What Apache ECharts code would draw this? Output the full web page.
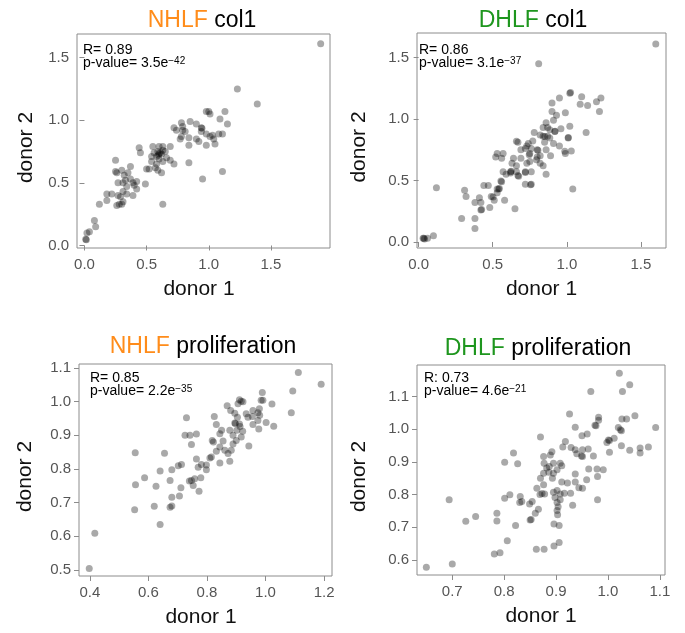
<!DOCTYPE html>
<html>
<head>
<meta charset="utf-8">
<title>donor correlation</title>
<script src="https://cdn.jsdelivr.net/npm/echarts@6/dist/echarts.min.js"></script>
<style>
    html, body { margin: 0; padding: 0; background: #fff; }
    #main { width: 685px; height: 633px; }
</style>
</head>
<body>
<div id="main"></div>
<script>
// [donor 1, donor 2]
var nhlfCol1 = [
    [1.90, 1.61], [1.23, 1.25], [1.39, 1.13], [0.98, 1.07], [1.00, 1.07], [1.01, 1.05], [1.13, 1.07], [1.09, 1.01],
    [1.15, 0.97], [0.85, 0.99], [0.78, 0.98], [0.79, 0.95], [0.90, 0.97], [0.94, 0.94], [0.945, 0.935], [0.72, 0.94],
    [0.74, 0.92], [0.79, 0.92], [0.81, 0.91], [0.94, 0.91], [0.98, 0.89], [1.03, 0.88], [1.08, 0.89], [1.11, 0.89],
    [0.78, 0.87], [0.84, 0.86], [0.90, 0.85], [0.92, 0.83], [1.01, 0.87], [1.04, 0.85], [1.05, 0.81], [0.77, 0.85],
    [0.84, 0.80], [0.98, 0.80], [0.69, 0.79], [0.44, 0.78], [0.45, 0.74], [0.55, 0.79], [0.60, 0.79], [0.63, 0.79],
    [0.56, 0.74], [0.59, 0.75], [0.63, 0.76], [0.65, 0.75], [0.54, 0.71], [0.58, 0.71], [0.62, 0.73], [0.60, 0.69],
    [0.66, 0.70], [0.69, 0.68], [0.72, 0.65], [0.54, 0.67], [0.58, 0.65], [0.63, 0.67], [0.50, 0.61], [0.52, 0.61],
    [0.57, 0.62], [0.59, 0.60], [0.62, 0.58], [0.84, 0.66], [0.25, 0.68], [0.25, 0.59], [0.26, 0.58], [0.30, 0.60],
    [0.37, 0.63], [0.35, 0.58], [0.32, 0.56], [0.27, 0.50], [0.31, 0.50], [0.33, 0.52], [0.37, 0.53], [0.39, 0.50],
    [0.42, 0.51], [0.40, 0.48], [0.42, 0.45], [0.49, 0.49], [0.34, 0.47], [0.31, 0.43], [0.27, 0.40], [0.29, 0.39],
    [0.34, 0.41], [0.39, 0.40], [0.31, 0.35], [0.30, 0.33], [0.28, 0.33], [0.26, 0.32], [0.18, 0.36], [0.18, 0.41],
    [0.22, 0.41], [0.12, 0.33], [0.63, 0.33], [0.95, 0.53], [1.11, 0.59], [0.08, 0.20], [0.09, 0.15], [0.04, 0.11],
    [0.02, 0.10], [0.01, 0.05], [0.015, 0.045], [0.60, 0.735], [0.61, 0.74], [0.595, 0.72]
];
var dhlfCol1 = [
    [1.60, 1.61], [0.81, 1.45], [1.02, 1.21], [1.025, 1.215], [0.90, 1.13], [0.95, 1.17], [1.10, 1.18], [1.09, 1.12],
    [1.14, 1.11], [1.20, 1.14], [1.23, 1.17], [1.22, 1.06], [0.90, 1.06], [0.93, 1.03], [0.99, 1.05], [0.91, 0.99],
    [0.86, 0.97], [1.02, 0.94], [0.96, 0.92], [0.84, 0.93], [0.87, 0.93], [0.78, 0.89], [0.82, 0.87], [1.13, 0.89],
    [1.01, 0.85], [0.77, 0.82], [0.84, 0.86], [0.87, 0.86], [0.92, 0.90], [0.85, 0.81], [0.91, 0.80], [0.67, 0.81],
    [0.74, 0.80], [0.95, 0.78], [0.99, 0.72], [1.03, 0.74], [0.72, 0.76], [0.73, 0.78], [0.76, 0.76], [0.80, 0.75],
    [0.805, 0.745], [0.86, 0.75], [0.69, 0.75], [0.75, 0.72], [0.82, 0.70], [0.89, 0.70], [0.64, 0.68], [0.69, 0.68],
    [0.73, 0.64], [0.80, 0.69], [0.82, 0.64], [0.53, 0.72], [0.52, 0.69], [0.57, 0.72], [0.56, 0.68], [0.63, 0.64],
    [0.66, 0.62], [0.62, 0.57], [0.625, 0.575], [0.66, 0.57], [0.67, 0.54], [0.675, 0.535], [0.57, 0.57], [0.59, 0.55],
    [0.62, 0.56], [0.72, 0.57], [0.72, 0.565], [0.76, 0.57], [0.86, 0.55], [0.72, 0.47], [0.76, 0.47], [0.755, 0.465],
    [1.04, 0.43], [0.56, 0.49], [0.555, 0.495], [0.54, 0.43], [0.545, 0.435], [0.53, 0.43], [0.53, 0.40], [0.49, 0.37],
    [0.51, 0.34], [0.44, 0.46], [0.47, 0.46], [0.41, 0.36], [0.38, 0.32], [0.42, 0.32], [0.42, 0.26], [0.425, 0.265],
    [0.48, 0.28], [0.58, 0.34], [0.65, 0.27], [0.31, 0.42], [0.32, 0.37], [0.29, 0.19], [0.38, 0.19], [0.38, 0.11],
    [0.12, 0.44], [0.03, 0.03], [0.04, 0.025], [0.035, 0.03], [0.06, 0.03], [0.10, 0.05], [0.885, 0.913], [0.919, 0.899],
    [0.851, 0.858], [0.885, 0.845], [1.009, 0.845], [0.986, 0.737], [0.66, 0.818], [0.75, 0.655], [0.795, 0.669],
    [0.84, 0.62], [0.746, 0.709], [0.502, 0.366]
];
var nhlfProlif = [
    [1.112, 1.087], [1.19, 1.052], [1.093, 1.032], [1.088, 0.967], [1.028, 0.927], [1.022, 0.993], [1.002, 0.938],
    [0.989, 1.027], [0.991, 1.004], [0.985, 1.004], [0.979, 0.979], [0.974, 0.967], [0.957, 0.974], [0.934, 0.964],
    [0.94, 0.954], [0.955, 0.956], [0.98, 0.96], [0.974, 0.944], [0.957, 0.932], [0.977, 0.919], [0.943, 0.868],
    [0.911, 1.006], [0.917, 1.001], [0.906, 0.994], [0.923, 1.0], [0.881, 0.974], [0.869, 0.988], [0.895, 0.966],
    [0.904, 0.954], [0.895, 0.937], [0.897, 0.935], [0.911, 0.934], [0.913, 0.926], [0.902, 0.915], [0.922, 0.912],
    [0.917, 0.895], [0.878, 0.915], [0.889, 0.9], [0.9, 0.885], [0.832, 0.932], [0.85, 0.915], [0.844, 0.905],
    [0.825, 0.956], [0.818, 0.885], [0.822, 0.88], [0.855, 0.883], [0.844, 0.865], [0.832, 0.853], [0.861, 0.856],
    [0.872, 0.846], [0.883, 0.856], [0.889, 0.874], [0.878, 0.823], [0.844, 0.818], [0.81, 0.833], [0.815, 0.836],
    [0.798, 0.812], [0.781, 0.813], [0.798, 0.798], [0.764, 0.83], [0.77, 0.805], [0.779, 0.774], [0.758, 0.771],
    [0.747, 0.766], [0.74, 0.764], [0.753, 0.751], [0.773, 0.734], [0.764, 0.904], [0.747, 0.873], [0.742, 0.9],
    [0.725, 0.9], [0.73, 0.952], [0.713, 0.813], [0.702, 0.81], [0.68, 0.798], [0.674, 0.766], [0.711, 0.744],
    [0.68, 0.716], [0.674, 0.686], [0.68, 0.69], [0.706, 0.72], [0.64, 0.794], [0.626, 0.749], [0.62, 0.689],
    [0.64, 0.635], [0.655, 0.847], [0.587, 0.774], [0.555, 0.848], [0.556, 0.753], [0.553, 0.679], [0.417, 0.609],
    [0.398, 0.504]
];
var dhlfProlif = [
    [1.022, 1.171], [1.042, 1.136], [1.028, 1.115], [0.967, 1.115], [0.926, 1.046], [0.982, 1.036], [0.982, 1.027],
    [1.027, 1.031], [1.036, 1.031], [1.052, 1.041], [1.092, 1.005], [0.977, 1.01], [0.975, 1.012], [1.02, 1.005],
    [1.026, 0.995], [1.024, 0.998], [1.012, 0.972], [1.001, 0.967], [1.003, 0.965], [0.998, 0.959], [0.937, 1.006],
    [0.95, 0.98], [0.96, 0.985], [0.87, 0.976], [0.918, 0.962], [0.913, 0.945], [0.929, 0.944], [0.937, 0.937],
    [0.951, 0.937], [0.962, 0.939], [0.951, 0.916], [0.949, 0.918], [0.94, 0.925], [0.972, 0.918], [1.026, 0.949],
    [1.042, 0.935], [1.062, 0.942], [1.078, 0.945], [1.062, 0.927], [1.003, 0.929], [0.991, 0.876], [0.963, 0.878],
    [0.979, 0.878], [0.98, 0.855], [0.98, 0.784], [0.818, 0.927], [0.801, 0.899], [0.826, 0.894], [0.876, 0.916],
    [0.889, 0.921], [0.892, 0.931], [0.877, 0.896], [0.882, 0.881], [0.887, 0.886], [0.895, 0.896], [0.908, 0.896],
    [0.902, 0.876], [0.886, 0.868], [0.895, 0.865], [0.911, 0.888], [0.876, 0.865], [0.87, 0.85], [0.876, 0.83],
    [0.893, 0.85], [0.911, 0.838], [0.922, 0.835], [0.937, 0.863], [0.937, 0.838], [0.944, 0.821], [0.951, 0.819],
    [0.959, 0.845], [0.916, 0.804], [0.928, 0.804], [0.932, 0.767], [0.902, 0.812], [0.908, 0.802], [0.895, 0.807],
    [0.898, 0.791], [0.908, 0.784], [0.902, 0.776], [0.904, 0.763], [0.902, 0.751], [0.903, 0.738], [0.873, 0.803],
    [0.869, 0.8], [0.878, 0.802], [0.863, 0.819], [0.854, 0.779], [0.849, 0.771], [0.834, 0.779], [0.83, 0.776],
    [0.831, 0.794], [0.866, 0.755], [0.86, 0.743], [0.811, 0.799], [0.801, 0.789], [0.786, 0.743], [0.786, 0.719],
    [0.822, 0.705], [0.852, 0.724], [0.85, 0.722], [0.896, 0.71], [0.906, 0.705], [0.806, 0.659], [0.862, 0.633],
    [0.877, 0.633], [0.896, 0.643], [0.906, 0.653], [0.781, 0.618], [0.792, 0.622], [0.726, 0.718], [0.745, 0.733],
    [0.694, 0.784], [0.7, 0.588], [0.65, 0.578]
];

// tick labels
var col1Ticks = [0, 0.5, 1, 1.5];
var nhlfProlifXTicks = [0.4, 0.6, 0.8, 1.0, 1.2];
var nhlfProlifYTicks = [0.5, 0.6, 0.7, 0.8, 0.9, 1.0, 1.1];
var dhlfProlifXTicks = [0.7, 0.8, 0.9, 1.0, 1.1];
var dhlfProlifYTicks = [0.6, 0.7, 0.8, 0.9, 1.0, 1.1];

// panel texts
var cellLines = ['NHLF', 'DHLF', 'NHLF', 'DHLF'];
var markers = ['col1', 'col1', 'proliferation', 'proliferation'];
var rTexts = ['R= 0.89', 'R= 0.86', 'R= 0.85', 'R: 0.73'];
var pMantissa = ['3.5', '3.1', '2.2', '4.6'];
var pExponent = ['\u221242', '\u221237', '\u221235', '\u221221'];

var FONT = '"Liberation Sans", Arial, sans-serif';
var ORANGE = '#ff8c1a';
var GREEN = '#1e961e';
var GREY = '#8c8c8c';

// pixel layout of the four boxes
var panels = [
    {left: 77, top: 34, width: 253, height: 214, xMin: -0.06, xMax: 1.975, yMin: -0.02, yMax: 1.688,
        xTicks: col1Ticks, yTicks: col1Ticks, titleX: 202, titleY: 9, noteX: 83, noteY: 43, yGap: 40, xPad: 9},
    {left: 417, top: 33, width: 249, height: 215, xMin: -0.011, xMax: 1.669, yMin: -0.049, yMax: 1.699,
        xTicks: col1Ticks, yTicks: col1Ticks, titleX: 533, titleY: 9, noteX: 419, noteY: 43, yGap: 47, xPad: 0},
    {left: 79, top: 364, width: 253, height: 212, xMin: 0.363, xMax: 1.227, yMin: 0.482, yMax: 1.112,
        xTicks: nhlfProlifXTicks, yTicks: nhlfProlifYTicks, titleX: 203, titleY: 335, noteX: 90, noteY: 371, yGap: 43, xPad: 9},
    {left: 417, top: 365, width: 248, height: 210, xMin: 0.632, xMax: 1.11, yMin: 0.554, yMax: 1.196,
        xTicks: dhlfProlifXTicks, yTicks: dhlfProlifYTicks, titleX: 538, titleY: 337, noteX: 424, noteY: 371, yGap: 47, xPad: 0}
];
var panelData = [nhlfCol1, dhlfCol1, nhlfProlif, dhlfProlif];

function tickFmt(v) {
    return v.toFixed(1);
}

function makeAxis(p, i, isY) {
    var ticks = isY ? p.yTicks : p.xTicks;
    return {
        type: 'value',
        gridIndex: i,
        min: isY ? p.yMin : p.xMin,
        max: isY ? p.yMax : p.xMax,
        name: isY ? 'donor 2' : 'donor 1',
        nameLocation: 'middle',
        nameGap: isY ? p.yGap : 31,
        nameTextStyle: {
            fontFamily: FONT,
            fontSize: 21,
            color: '#111',
            // R centres the labels on the figure region, not the box
            padding: isY ? [0, 13, 0, 0] : [0, p.xPad, 0, 0]
        },
        axisLine: {show: false},
        splitLine: {show: false},
        axisTick: {
            show: true,
            length: 5,
            lineStyle: {color: GREY},
            customValues: ticks
        },
        axisLabel: {
            fontFamily: FONT,
            fontSize: 15,
            color: '#555',
            margin: isY ? 8 : 9,
            customValues: ticks,
            formatter: tickFmt
        }
    };
}

var chart = echarts.init(document.getElementById('main'));

var grids = [], xAxes = [], yAxes = [], series = [], titles = [], notes = [];
for (var i = 0; i < panels.length; i++) {
    var p = panels[i];
    grids.push({
        left: p.left, top: p.top, width: p.width, height: p.height,
        show: true, borderColor: GREY, borderWidth: 1, backgroundColor: 'transparent'
    });
    xAxes.push(makeAxis(p, i, false));
    yAxes.push(makeAxis(p, i, true));
    series.push({
        type: 'scatter',
        xAxisIndex: i,
        yAxisIndex: i,
        symbolSize: 7,
        itemStyle: {color: 'rgba(0,0,0,0.42)'},
        silent: true,
        data: panelData[i]
    });
    titles.push({
        text: '{c|' + cellLines[i] + '} ' + markers[i],
        left: p.titleX,
        top: p.titleY,
        padding: 0,
        textAlign: 'center',
        textVerticalAlign: 'top',
        textStyle: {
            fontFamily: FONT,
            fontSize: 23,
            fontWeight: 'normal',
            color: '#000',
            rich: {
                c: {fontFamily: FONT, fontSize: 23, color: i % 2 === 0 ? ORANGE : GREEN}
            }
        }
    });
    notes.push({
        type: 'text',
        x: p.noteX,
        y: p.noteY,
        silent: true,
        style: {
            text: rTexts[i],
            font: '14px ' + FONT,
            fill: '#000',
            verticalAlign: 'top'
        }
    });
    notes.push({
        type: 'text',
        x: p.noteX,
        y: p.noteY + 13,
        silent: true,
        style: {
            text: 'p-value= ' + pMantissa[i] + 'e{s|' + pExponent[i] + '}',
            font: '14px ' + FONT,
            fill: '#000',
            verticalAlign: 'top',
            rich: {
                s: {fontSize: 10, fontFamily: FONT, fill: '#000', verticalAlign: 'top'}
            }
        }
    });
}

var option = {
    backgroundColor: '#fff',
    animation: false,
    title: titles,
    grid: grids,
    xAxis: xAxes,
    yAxis: yAxes,
    series: series,
    graphic: notes
};
chart.setOption(option);
</script>
</body>
</html>
